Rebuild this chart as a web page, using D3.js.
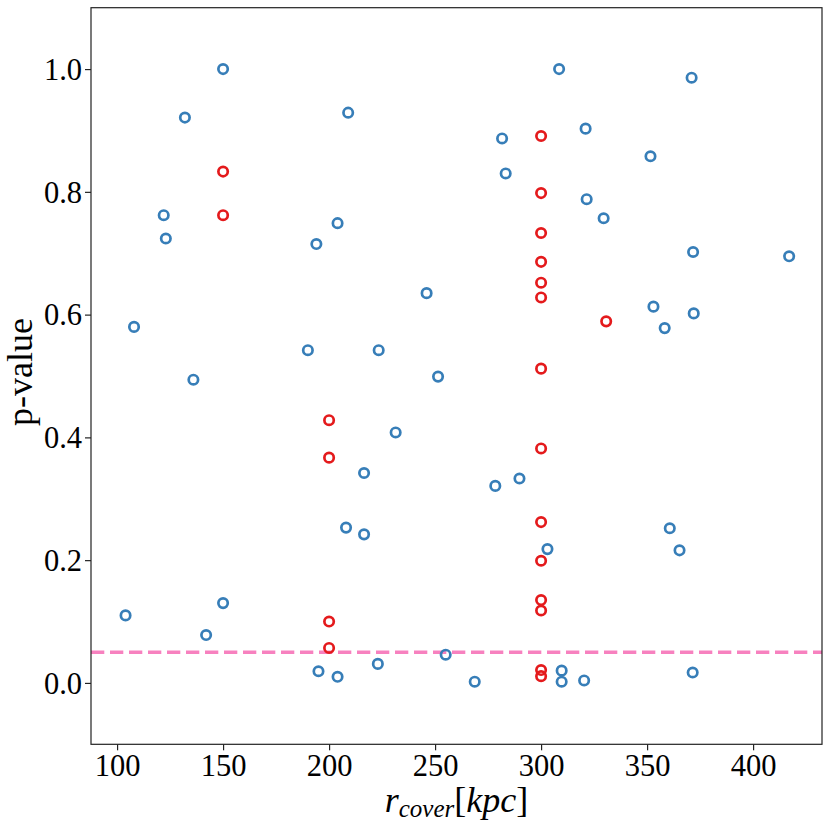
<!DOCTYPE html>
<html>
<head>
<meta charset="utf-8">
<script src="https://cdn.jsdelivr.net/npm/d3@7"></script>
<style>
  body { margin: 0; background: white; }
  text { font-family: "Liberation Serif", "DejaVu Serif", serif; }
</style>
</head>
<body>
<script>
// blue points (r_cover, p-value)
const blueX = [150, 132, 122, 123, 204, 194, 108, 209, 190, 136, 208, 104, 150, 142, 195, 204,
               308.5, 281.6, 283.3, 246, 223.4, 251.4, 231.4, 216.5, 278.4, 289.8, 216.5, 303, 255, 223, 268.7, 309.7, 309.7, 320.3,
               371, 321, 351.6, 321.5, 329.5, 371.7, 417, 353, 372, 358.3, 360.7, 365.3, 371.5];
const blueY = [1.0, 0.921, 0.762, 0.724, 0.749, 0.715, 0.580, 0.929, 0.542, 0.494, 0.253, 0.110, 0.130, 0.078, 0.019, 0.010,
               1.0, 0.887, 0.830, 0.635, 0.542, 0.499, 0.408, 0.342, 0.321, 0.333, 0.242, 0.218, 0.046, 0.031, 0.002, 0.020, 0.002, 0.004,
               0.986, 0.903, 0.858, 0.788, 0.757, 0.702, 0.695, 0.613, 0.602, 0.578, 0.252, 0.216, 0.017];
// red points
const redX = [150, 150, 200, 200, 200, 200, 330.7,
              300, 300, 300, 300, 300, 300, 300, 300, 300, 300, 300, 300, 300, 300];
const redY = [0.833, 0.762, 0.428, 0.367, 0.100, 0.057, 0.589,
              0.891, 0.798, 0.733, 0.686, 0.652, 0.628, 0.512, 0.382, 0.262, 0.199, 0.135, 0.118, 0.021, 0.011];

const xTicks = [100, 150, 200, 250, 300, 350, 400];
const yTicks = [0.0, 0.2, 0.4, 0.6, 0.8, 1.0];
const threshold = 0.05;

function main(){
    var width = 831;
    var height = 827;
    const plot = { left: 91, right: 822, top: 7.7, bottom: 744.3 };

    let svg = d3.select("body")
        .append('svg')
        .attr('width', width)
        .attr('height', height)
        .attr('style', "background-color: white");

    let xScale = d3.scaleLinear()
        .domain([87.7, 432.5])
        .range([plot.left, plot.right]);
    let yScale = d3.scaleLinear()
        .domain([-0.1, 1.1])
        .range([plot.bottom, plot.top]);

    // threshold line
    svg.append('line')
        .attr('x1', plot.left)
        .attr('x2', plot.right)
        .attr('y1', yScale(threshold))
        .attr('y2', yScale(threshold))
        .attr('stroke', '#f781bf')
        .attr('stroke-width', 3.5)
        .attr('stroke-dasharray', '13.3,5.7');

    let blue = blueX.map((d, i) => [d, blueY[i]]);
    let red = redX.map((d, i) => [d, redY[i]]);

    svg.append('g').selectAll('circle')
        .data(blue)
        .enter()
        .append('circle')
        .attr('cx', d => xScale(d[0]))
        .attr('cy', d => yScale(d[1]))
        .attr('r', 4.7)
        .attr('fill', 'none')
        .attr('stroke', '#377eb8')
        .attr('stroke-width', 2.7);

    svg.append('g').selectAll('circle')
        .data(red)
        .enter()
        .append('circle')
        .attr('cx', d => xScale(d[0]))
        .attr('cy', d => yScale(d[1]))
        .attr('r', 4.7)
        .attr('fill', 'none')
        .attr('stroke', '#e41a1c')
        .attr('stroke-width', 2.7);

    // axes
    let xAxis = svg.append('g')
        .attr('transform', `translate(0,${plot.bottom})`)
        .call(d3.axisBottom(xScale).tickValues(xTicks).tickSize(6).tickPadding(4).tickFormat(d3.format('d')));
    let yAxis = svg.append('g')
        .attr('transform', `translate(${plot.left},0)`)
        .call(d3.axisLeft(yScale).tickValues(yTicks).tickSize(6).tickPadding(3).tickFormat(d3.format('.1f')));

    [xAxis, yAxis].forEach(a => {
        a.select('.domain').remove();
        a.selectAll('.tick line').attr('stroke', '#222').attr('stroke-width', 1.2);
        a.selectAll('.tick text')
            .attr('font-family', '"Liberation Serif", serif')
            .attr('font-size', '30.5px')
            .attr('fill', 'black');
    });
    yAxis.selectAll('.tick text').attr('dy', '0.34em');

    // frame
    svg.append('rect')
        .attr('x', plot.left)
        .attr('y', plot.top)
        .attr('width', plot.right - plot.left)
        .attr('height', plot.bottom - plot.top)
        .attr('fill', 'none')
        .attr('stroke', '#222')
        .attr('stroke-width', 1.2);

    // x label
    let xl = svg.append('text')
        .attr('x', (plot.left + plot.right) / 2)
        .attr('y', 812)
        .attr('text-anchor', 'middle')
        .attr('font-size', '36px');
    xl.append('tspan').attr('font-style', 'italic').text('r');
    xl.append('tspan').attr('font-style', 'italic').attr('font-size', '25px').attr('dy', 5).text('cover');
    xl.append('tspan').attr('dy', -5).text('[');
    xl.append('tspan').attr('font-style', 'italic').text('kpc');
    xl.append('tspan').text(']');

    // y label
    svg.append('text')
        .attr('transform', 'translate(32,372) rotate(-90)')
        .attr('text-anchor', 'middle')
        .attr('font-size', '36px')
        .text('p-value');
}

main()
</script>
</body>
</html>
